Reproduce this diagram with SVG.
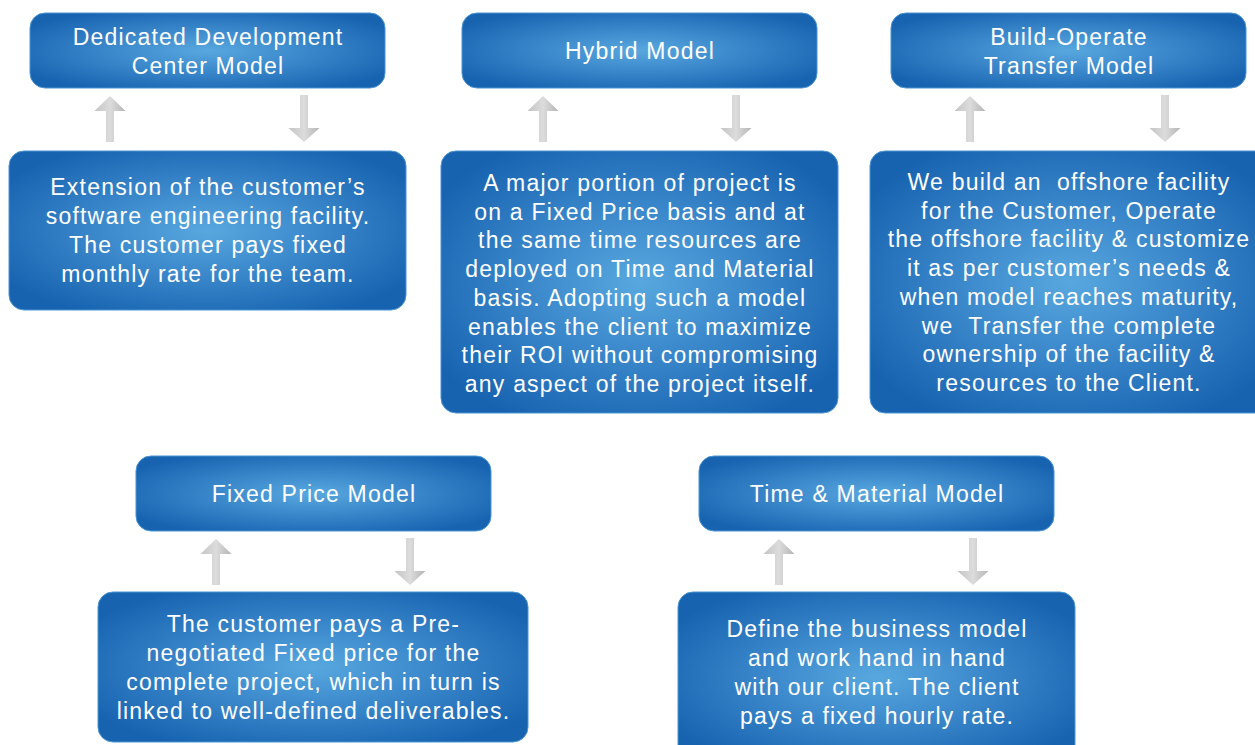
<svg xmlns="http://www.w3.org/2000/svg" width="1255" height="745" viewBox="0 0 1255 745">
<defs>
<radialGradient id="bg" cx="0.5" cy="0.5" r="0.6">
<stop offset="0" stop-color="#58a8df"/>
<stop offset="0.55" stop-color="#3582c7"/>
<stop offset="1" stop-color="#1763b0"/>
</radialGradient>
<linearGradient id="ag" x1="0" y1="0" x2="1" y2="0">
<stop offset="0" stop-color="#c4c4c4"/>
<stop offset="0.5" stop-color="#dcdcdc"/>
<stop offset="1" stop-color="#b4b4b4"/>
</linearGradient>
<path id="up" d="M0,0 L15.5,15 L4,15 L4,46 L-4,46 L-4,15 L-15.5,15 Z"/>
<path id="down" d="M0,47 L15.5,33 L4,33 L4,0 L-4,0 L-4,33 L-15.5,33 Z"/>
</defs>
<style>
.box{fill:url(#bg);stroke:#4a95d3;stroke-width:1}
.t{font-family:"Liberation Sans",Arial,sans-serif;font-size:23px;letter-spacing:1.2px;fill:#ffffff;text-anchor:middle}
.arr{fill:url(#ag)}
</style>
<rect width="1255" height="745" fill="#ffffff"/>
<g id="connectors">
<use href="#up" class="arr" x="110" y="96"/>
<use href="#down" class="arr" x="304" y="95"/>
<use href="#up" class="arr" x="543" y="96"/>
<use href="#down" class="arr" x="736" y="95"/>
<use href="#up" class="arr" x="970" y="96"/>
<use href="#down" class="arr" x="1165" y="95"/>
<use href="#up" class="arr" x="216" y="539"/>
<use href="#down" class="arr" x="410" y="538"/>
<use href="#up" class="arr" x="779" y="539"/>
<use href="#down" class="arr" x="973" y="538"/>
</g>
<g id="ddc-head">
<rect class="box" x="30" y="13" width="355" height="75" rx="15"/>
<text class="t" x="208" y="45">Dedicated Development</text>
<text class="t" x="208" y="74">Center Model</text>
</g>
<g id="ddc-body">
<rect class="box" x="9" y="151" width="397" height="159" rx="15"/>
<text class="t" x="208" y="195">Extension of the customer’s</text>
<text class="t" x="208" y="224">software engineering facility.</text>
<text class="t" x="208" y="253">The customer pays fixed</text>
<text class="t" x="208" y="282">monthly rate for the team.</text>
</g>
<g id="hybrid-head">
<rect class="box" x="462" y="13" width="355" height="75" rx="15"/>
<text class="t" x="640" y="59">Hybrid Model</text>
</g>
<g id="hybrid-body">
<rect class="box" x="441" y="151" width="397" height="262" rx="15"/>
<text class="t" x="640" y="191">A major portion of project is</text>
<text class="t" x="640" y="219.7">on a Fixed Price basis and at</text>
<text class="t" x="640" y="248.4">the same time resources are</text>
<text class="t" x="640" y="277.1">deployed on Time and Material</text>
<text class="t" x="640" y="305.8">basis. Adopting such a model</text>
<text class="t" x="640" y="334.5">enables the client to maximize</text>
<text class="t" x="640" y="363.2">their ROI without compromising</text>
<text class="t" x="640" y="391.9">any aspect of the project itself.</text>
</g>
<g id="bot-head">
<rect class="box" x="891" y="13" width="355" height="75" rx="15"/>
<text class="t" x="1069" y="45">Build-Operate</text>
<text class="t" x="1069" y="74">Transfer Model</text>
</g>
<g id="bot-body">
<rect class="box" x="870" y="151" width="400" height="262" rx="15"/>
<text class="t" x="1069" y="190" xml:space="preserve">We build an  offshore facility</text>
<text class="t" x="1069" y="218.7">for the Customer, Operate</text>
<text class="t" x="1069" y="247.4">the offshore facility &amp; customize</text>
<text class="t" x="1069" y="276.1">it as per customer’s needs &amp;</text>
<text class="t" x="1069" y="304.8">when model reaches maturity,</text>
<text class="t" x="1069" y="333.5" xml:space="preserve">we  Transfer the complete</text>
<text class="t" x="1069" y="362.2">ownership of the facility &amp;</text>
<text class="t" x="1069" y="390.9">resources to the Client.</text>
</g>
<g id="fp-head">
<rect class="box" x="136" y="456" width="355" height="75" rx="15"/>
<text class="t" x="314" y="502">Fixed Price Model</text>
</g>
<g id="fp-body">
<rect class="box" x="98" y="592" width="430" height="150" rx="15"/>
<text class="t" x="313.5" y="632">The customer pays a Pre-</text>
<text class="t" x="313.5" y="661">negotiated Fixed price for the</text>
<text class="t" x="313.5" y="690">complete project, which in turn is</text>
<text class="t" x="313.5" y="719">linked to well-defined deliverables.</text>
</g>
<g id="tm-head">
<rect class="box" x="699" y="456" width="355" height="75" rx="15"/>
<text class="t" x="877" y="502">Time &amp; Material Model</text>
</g>
<g id="tm-body">
<rect class="box" x="678" y="592" width="397" height="170" rx="15"/>
<text class="t" x="877" y="637">Define the business model</text>
<text class="t" x="877" y="666">and work hand in hand</text>
<text class="t" x="877" y="695">with our client. The client</text>
<text class="t" x="877" y="724">pays a fixed hourly rate.</text>
</g>
</svg>
